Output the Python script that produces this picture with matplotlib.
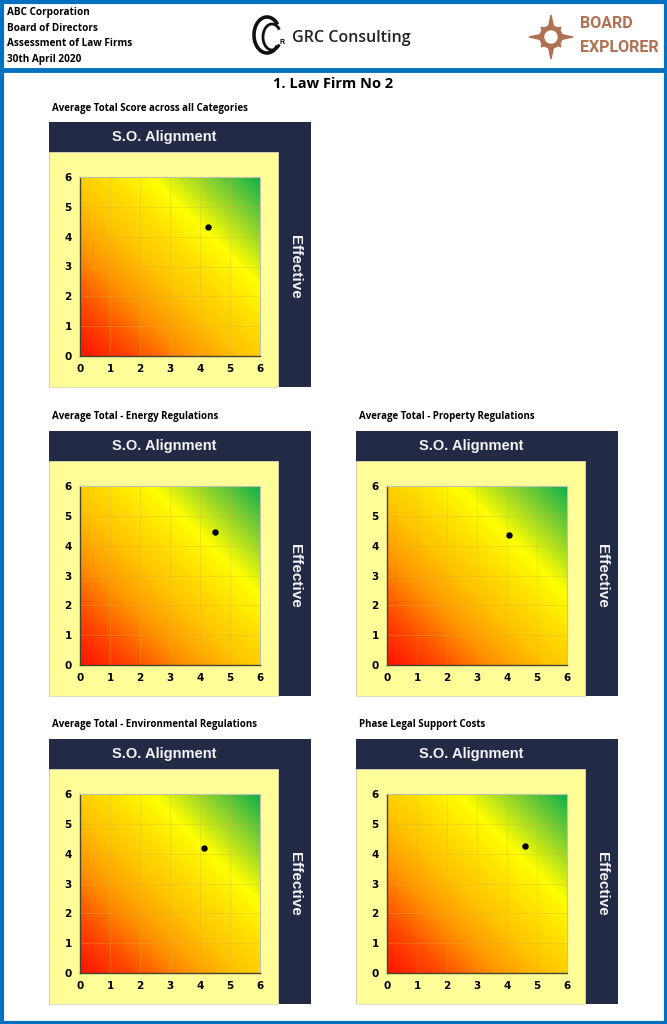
import numpy as np
import matplotlib
matplotlib.use("Agg")
import matplotlib.pyplot as plt
from matplotlib.colors import LinearSegmentedColormap
from matplotlib.patches import Rectangle, Arc, Polygon, Circle

# header text
header_lines = ["ABC Corporation", "Board of Directors", "Assessment of Law Firms", "30th April 2020"]
page_title = "1. Law Firm No 2"

# one chart per category: title, x (S.O. Alignment), y (Effective)
chart_titles = [
    "Average Total Score across all Categories",
    "Average Total - Energy Regulations",
    "Average Total - Property Regulations",
    "Average Total - Environmental Regulations",
    "Phase Legal Support Costs",
]
alignment = [4.25, 4.50, 4.05, 4.12, 4.60]
effective = [4.33, 4.45, 4.35, 4.20, 4.27]
ticks = [0, 1, 2, 3, 4, 5, 6]

W, H = 667, 1024
DARK = "#222a45"
PALE = "#fffd98"
BLUE = "#0070c0"
BROWN = "#b07052"

cmap = LinearSegmentedColormap.from_list("rag", [
    (0.00, "#ff1200"),
    (0.15, "#ff4a00"),
    (0.30, "#ff9400"),
    (0.45, "#ffc400"),
    (0.56, "#ffdc00"),
    (0.70, "#ffff00"),
    (0.85, "#8cd22e"),
    (1.00, "#10b04a"),
])

fig = plt.figure(figsize=(W / 100, H / 100), dpi=100)
bg = fig.add_axes([0, 0, 1, 1])
bg.set_xlim(0, W)
bg.set_ylim(H, 0)
bg.axis("off")


def box(x0, y0, x1, y1):
    return [x0 / W, 1 - y1 / H, (x1 - x0) / W, (y1 - y0) / H]


# page borders
bg.add_patch(Rectangle((1.5, 1.5), W - 3, H - 3, fill=False, ec=BLUE, lw=3))
bg.plot([0, W], [70, 70], color=BLUE, lw=3.5)

# header left text
for i, line in enumerate(header_lines):
    bg.text(7, 13 + i * 15.5, line, fontsize=7.2, fontweight="bold", family="Open Sans",
            va="center", ha="left")

# GRC logo
bg.add_patch(Arc((267, 35), 26, 36, theta1=45, theta2=315, lw=2.6, color="#111111"))
bg.add_patch(Arc((272, 37), 18, 26, theta1=45, theta2=315, lw=2.0, color="#111111"))
bg.text(280, 42, "R", fontsize=5, fontweight="bold", family="Liberation Sans", va="center")
bg.text(292, 38, "GRC Consulting", fontsize=11.5, family="Open Sans", fontweight="semibold",
        va="center", ha="left", color="#222222")

# Board Explorer logo
cx, cy = 551, 37
star = []
for k in range(16):
    ang = np.pi / 2 - k * np.pi / 8
    r = [22, 8, 14, 8][k % 4]
    star.append((cx + r * np.cos(ang), cy - r * np.sin(ang)))
bg.add_patch(Polygon(star, closed=True, color=BROWN))
bg.add_patch(Circle((cx, cy), 11, color=BROWN))
bg.add_patch(Circle((cx, cy), 6, color="white"))
bg.text(580, 24, "BOARD", fontsize=11.5, color=BROWN, fontweight="bold",
        family="Roboto", va="center", ha="left")
bg.text(580, 47, "EXPLORER", fontsize=11.5, color=BROWN, fontweight="bold",
        family="Roboto", va="center", ha="left")

bg.text(W / 2, 84, page_title, fontsize=10.5, fontweight="bold", family="Open Sans",
        ha="center", va="center")

# panel positions (left, top) in pixels
panel_pos = [(49, 122), (49, 431), (356, 431), (49, 739), (356, 739)]

xx, yy = np.meshgrid(np.linspace(0, 6, 300), np.linspace(0, 6, 300))
grad = (xx + yy) / 12

for title, px, py, (L, T) in zip(chart_titles, alignment, effective, panel_pos):
    bg.text(L + 3, T - 14, title, fontsize=7.0, fontweight="bold", family="Open Sans",
            ha="left", va="center")
    bg.add_patch(Rectangle((L, T), 262, 265, color=DARK, lw=0))
    bg.add_patch(Rectangle((L, T + 30), 229, 235, fc=PALE, ec="#d8d8c0", lw=0.6))
    bg.text(L + 115, T + 15, "S.O. Alignment", fontsize=10.5, color="#f4f4f8", fontweight="bold",
            family="Liberation Sans", ha="center", va="center")
    bg.text(L + 246, T + 145, "Effective", fontsize=11, color="#f4f4f8", fontweight="bold",
            family="Liberation Sans", rotation=-90, ha="center", va="center")

    ax = fig.add_axes(box(L + 31, T + 55, L + 211, T + 234))
    ax.imshow(grad, cmap=cmap, vmin=0, vmax=1, origin="lower", extent=[0, 6, 0, 6],
              aspect="auto", interpolation="bilinear", zorder=0)
    ax.set_xlim(0, 6)
    ax.set_ylim(0, 6)
    ax.set_xticks(ticks)
    ax.set_yticks(ticks)
    ax.grid(True, color="#d0b040", lw=0.6, alpha=0.35)
    ax.plot(px, py, "o", color="black", ms=3.6, zorder=5)
    for s in ["top", "right"]:
        ax.spines[s].set_color("#c0c0b0")
        ax.spines[s].set_linewidth(0.8)
    for s in ["left", "bottom"]:
        ax.spines[s].set_color("#444433")
        ax.spines[s].set_linewidth(1.0)
    ax.tick_params(length=0, pad=6, labelsize=7.5)
    for lab in ax.get_xticklabels() + ax.get_yticklabels():
        lab.set_fontweight("bold")
        lab.set_family("DejaVu Sans")

fig.savefig("out.png", dpi=100)
